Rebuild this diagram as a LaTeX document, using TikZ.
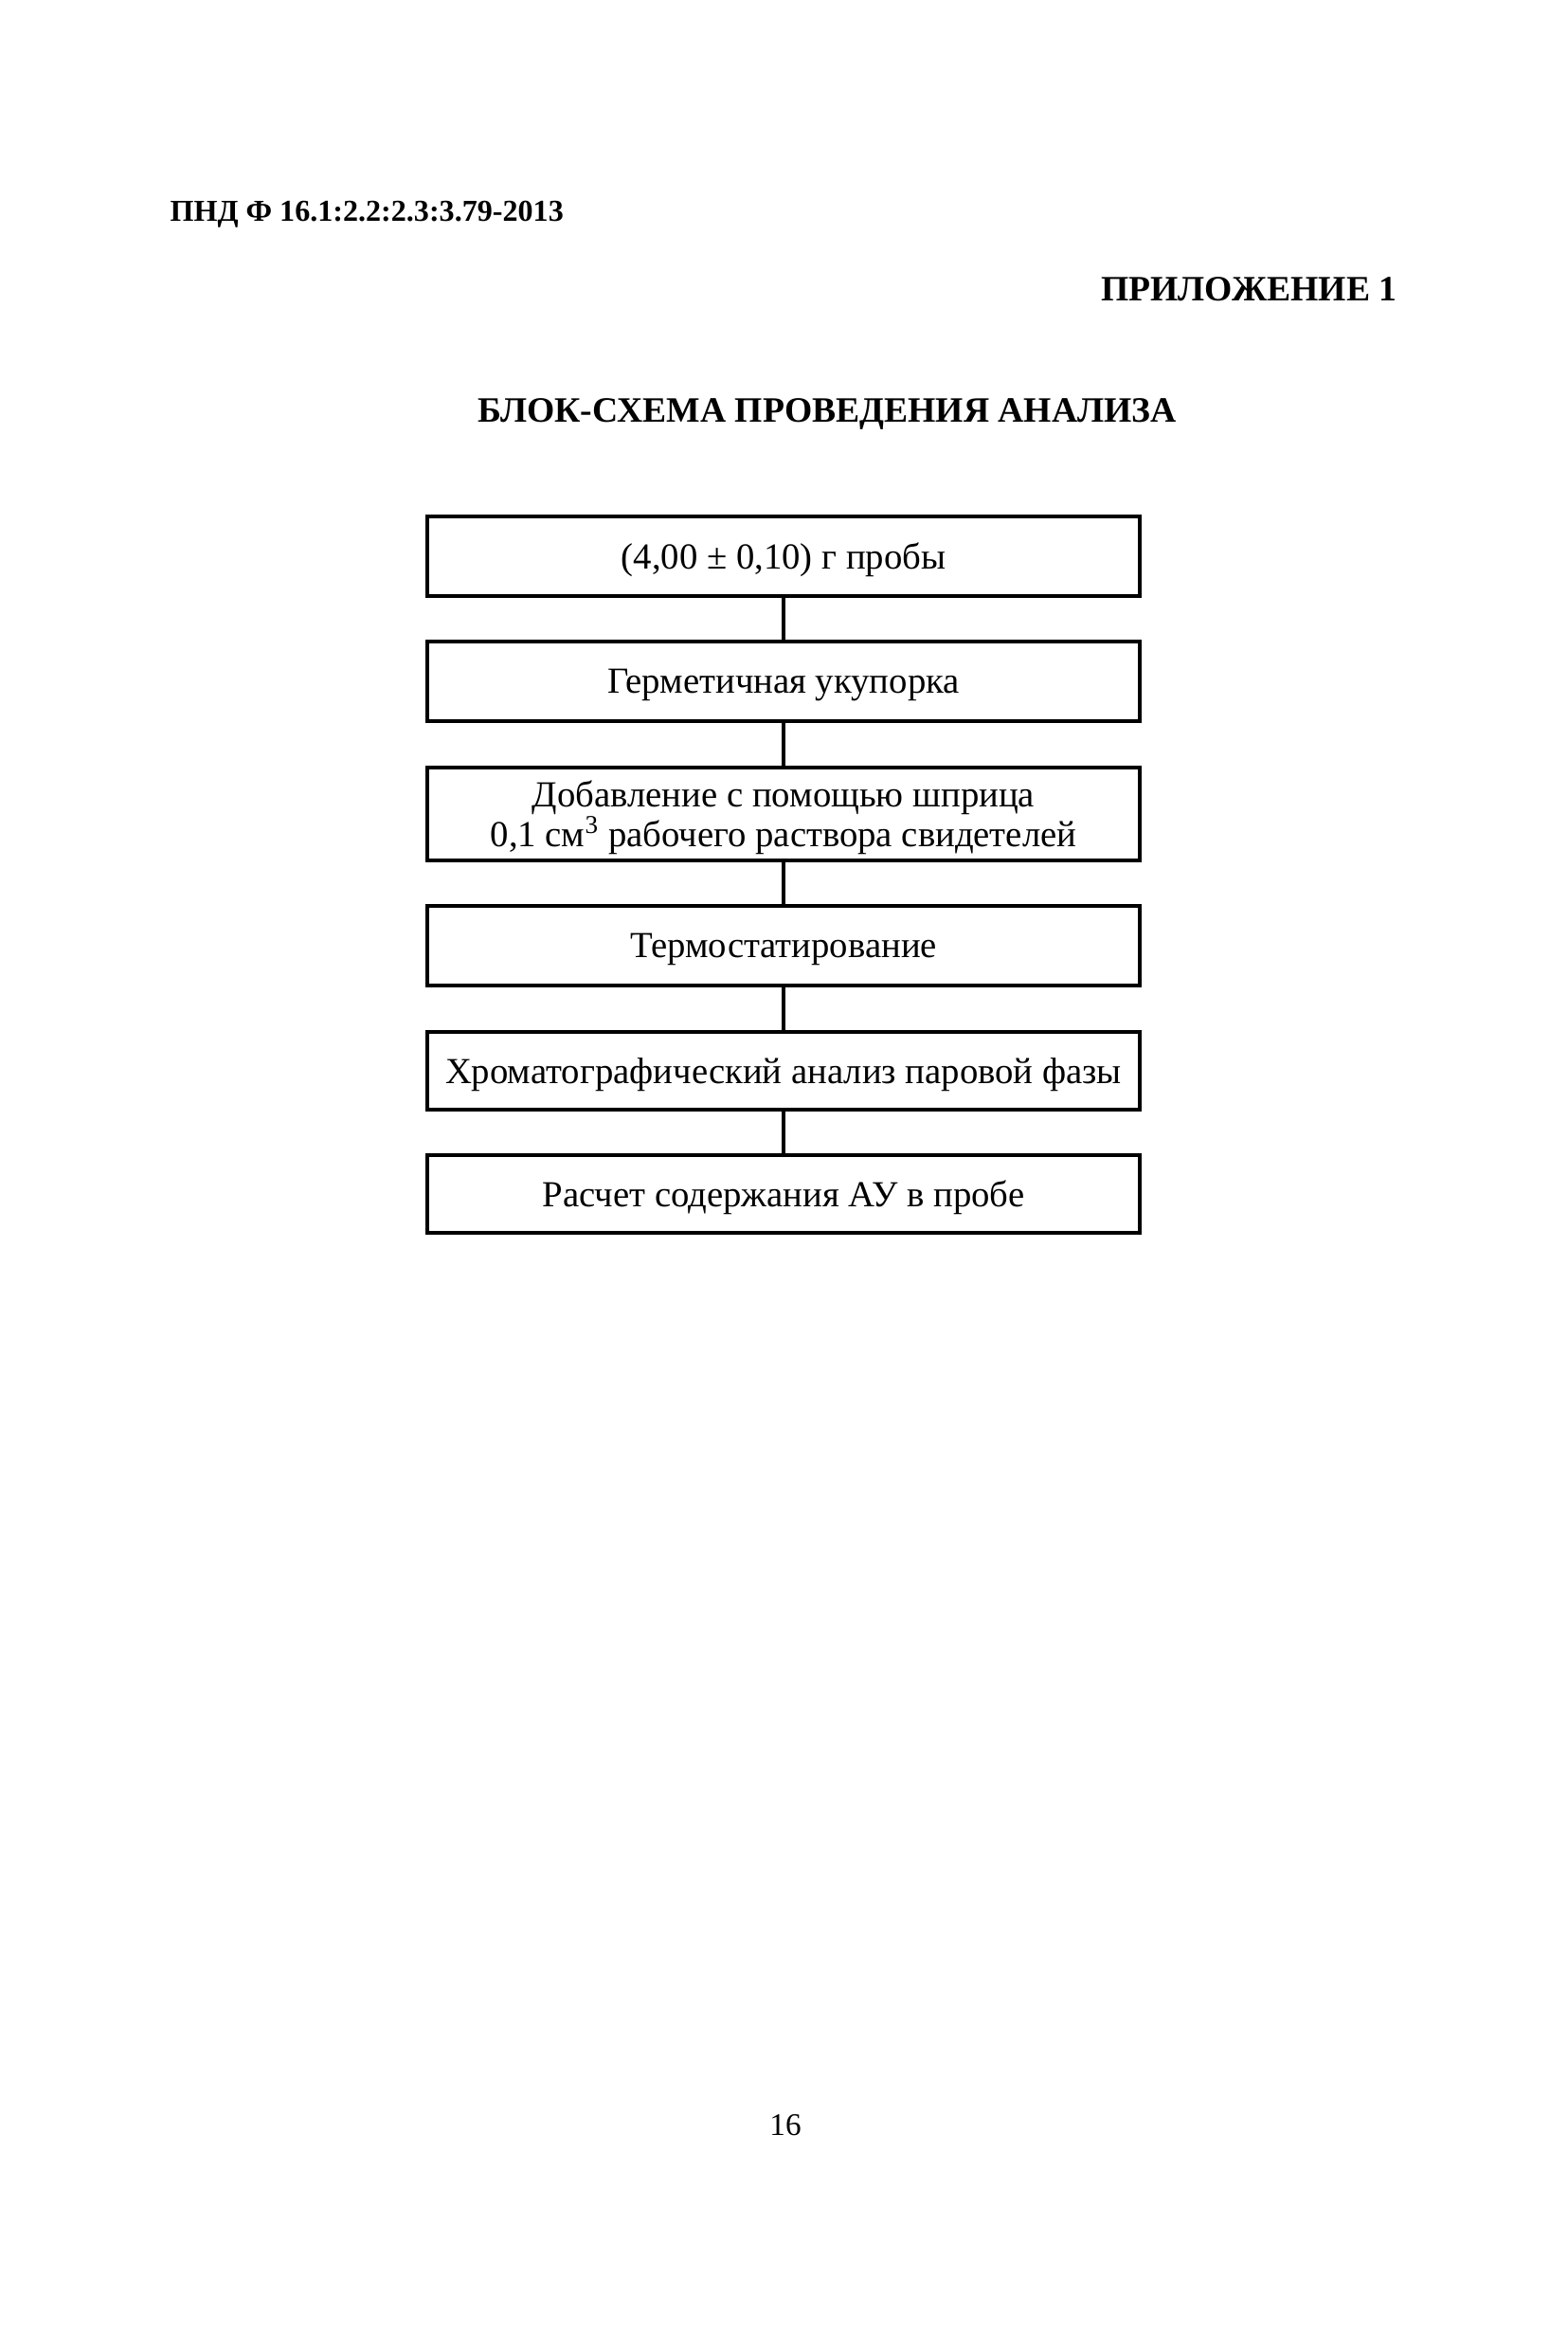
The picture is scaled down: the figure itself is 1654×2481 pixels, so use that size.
\documentclass[tikz,border=0pt]{standalone}
\usepackage{fontspec}
\setmainfont{Liberation Serif}
\begin{document}
\begin{tikzpicture}[x=0.36135pt,y=-0.36135pt,
  stepbox/.style={draw, line width=1.1pt, minimum width=752*0.36135pt, inner sep=0pt, text depth=0pt, align=center, font=\fontsize{14}{15.2}\selectfont},
  link/.style={line width=1.1pt},
  hdr/.style={inner sep=0pt, font=\bfseries\fontsize{11.6}{14}\selectfont}]
\useasboundingbox (0,0) rectangle (1654,2481);
\node[hdr, anchor=west] (doc) at (179,226) {ПНД Ф 16.1:2.2:2.3:3.79-2013};
\node[hdr, anchor=east, font=\bfseries\fontsize{13.6}{16}\selectfont] (app) at (1475,305) {ПРИЛОЖЕНИЕ 1};
\node[hdr, font=\bfseries\fontsize{13.6}{16}\selectfont] (title) at (873,437) {БЛОК-СХЕМА ПРОВЕДЕНИЯ АНАЛИЗА};
\node[stepbox, minimum height=84*0.36135pt] (b1) at (827,587) {(4,00 ± 0,10) г пробы};
\node[stepbox, minimum height=84*0.36135pt] (b2) at (827,719) {Герметичная укупорка};
\node[stepbox, minimum height=98*0.36135pt] (b3) at (827,859) {Добавление с помощью шприца\\0,1 см\textsuperscript{3} рабочего раствора свидетелей};
\node[stepbox, minimum height=84*0.36135pt] (b4) at (827,998) {Термостатирование};
\node[stepbox, minimum height=82*0.36135pt] (b5) at (827,1130) {Хроматографический анализ паровой фазы};
\node[stepbox, minimum height=82*0.36135pt] (b6) at (827,1260) {Расчет содержания АУ в пробе};
\draw[link] (b1) -- (b2);
\draw[link] (b2) -- (b3);
\draw[link] (b3) -- (b4);
\draw[link] (b4) -- (b5);
\draw[link] (b5) -- (b6);
\node[inner sep=0pt, font=\fontsize{12}{14}\selectfont] (page) at (829,2243) {16};
\end{tikzpicture}
\end{document}
